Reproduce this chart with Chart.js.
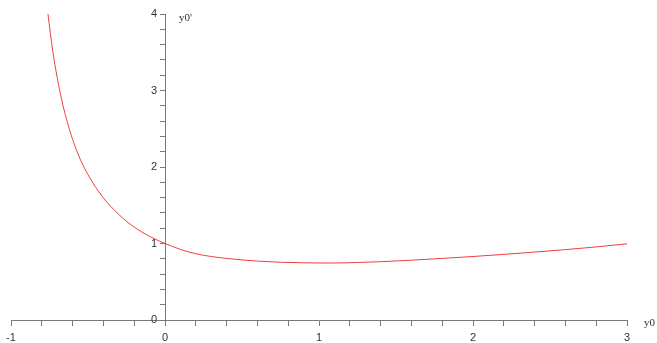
<!DOCTYPE html>
<html>
<head>
<meta charset="utf-8">
<script src="https://cdn.jsdelivr.net/npm/chart.js@4/dist/chart.umd.min.js"></script>
<style>
  html, body { margin: 0; padding: 0; background: #fff; }
  #wrap { width: 657px; height: 343px; position: relative; }
</style>
</head>
<body>
<div id="wrap"><canvas id="c"></canvas></div>
<script>
// Curve samples (x = y0, y = y0')
const xValues = [-0.76, -0.73, -0.70, -0.67, -0.64, -0.6, -0.55, -0.5, -0.45, -0.4, -0.35, -0.3, -0.25, -0.2, -0.15, -0.1, -0.05, 0, 0.1, 0.2, 0.3, 0.4, 0.5, 0.6, 0.75, 0.9, 1.0, 1.1, 1.25, 1.4, 1.6, 1.8, 2.0, 2.2, 2.4, 2.6, 2.8, 3.0];
const yValues = [4.0, 3.53, 3.17, 2.87, 2.63, 2.36, 2.1, 1.9, 1.734, 1.596, 1.48, 1.38, 1.29, 1.215, 1.15, 1.093, 1.044, 1.0, 0.923, 0.866, 0.83, 0.805, 0.785, 0.77, 0.755, 0.748, 0.745, 0.745, 0.752, 0.762, 0.782, 0.805, 0.83, 0.858, 0.888, 0.92, 0.955, 0.996];
const xTickLabels = ['-1', '0', '1', '2', '3'];
const yTickLabels = ['0', '1', '2', '3', '4'];
const xTitle = 'y0';
const yTitle = "y0'";

const points = xValues.map((x, i) => ({ x: x, y: yValues[i] }));

function intLabel(v, list) {
  const r = Math.round(v);
  if (Math.abs(v - r) < 1e-6) {
    const s = String(r);
    return list.indexOf(s) >= 0 ? s : '';
  }
  return '';
}

const axisColor = '#7a7a7a';
const textColor = '#333333';
const tickFont = '11px "Liberation Sans"';

// y tick labels placed left of the crossing y-axis, plus axis titles
const axisTextPlugin = {
  id: 'axisText',
  afterDraw(chart) {
    const ctx = chart.ctx;
    const xs = chart.scales.x, ys = chart.scales.y;
    const axisX = xs.getPixelForValue(0);
    ctx.save();
    ctx.fillStyle = textColor;
    ctx.font = tickFont;
    ctx.textAlign = 'right';
    ctx.textBaseline = 'middle';
    ys.ticks.forEach(t => {
      const lab = intLabel(t.value, yTickLabels);
      if (lab) ctx.fillText(lab, axisX - 8, ys.getPixelForValue(t.value));
    });
    ctx.font = '11px "Liberation Serif"';
    ctx.textAlign = 'left';
    ctx.fillText(yTitle, axisX + 14, ys.getPixelForValue(4) + 4);
    ctx.fillText(xTitle, xs.getPixelForValue(3) + 17, ys.getPixelForValue(0) + 3);
    ctx.restore();
  }
};

new Chart(document.getElementById('c'), {
  type: 'line',
  data: {
    datasets: [{
      data: points,
      borderColor: 'rgb(236,64,64)',
      borderWidth: 1,
      pointRadius: 0,
      fill: false,
      cubicInterpolationMode: 'monotone'
    }]
  },
  options: {
    responsive: true,
    maintainAspectRatio: false,
    animation: false,
    layout: { padding: { left: 11, right: 30, top: 14, bottom: 23 } },
    plugins: { legend: { display: false }, tooltip: { enabled: false }, title: { display: false } },
    scales: {
      x: {
        type: 'linear',
        min: -1, max: 3,
        position: { y: 0 },
        afterFit(s) { s.height = 0; },
        grid: { drawOnChartArea: false, drawTicks: true, tickLength: 5, color: axisColor },
        border: { display: true, color: axisColor, width: 1 },
        ticks: {
          stepSize: 0.2, autoSkip: false, maxTicksLimit: 100, maxRotation: 0,
          padding: 6, color: textColor,
          font: { family: 'Liberation Sans', size: 11 },
          callback: (v) => intLabel(v, xTickLabels)
        }
      },
      y: {
        type: 'linear',
        min: 0, max: 4,
        position: { x: 0 },
        afterFit(s) { s.width = 0; },
        grid: { drawOnChartArea: false, drawTicks: true, tickLength: 5, color: axisColor },
        border: { display: true, color: axisColor, width: 1 },
        ticks: {
          display: false,
          stepSize: 0.2, autoSkip: false, maxTicksLimit: 100,
          callback: (v) => intLabel(v, yTickLabels)
        }
      }
    }
  },
  plugins: [axisTextPlugin]
});
</script>
</body>
</html>
